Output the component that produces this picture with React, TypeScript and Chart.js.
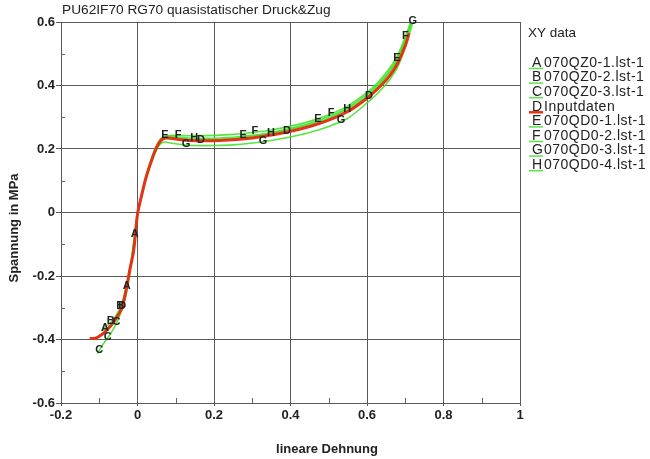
import React, { useEffect, useRef } from "react";
import { Chart, registerables } from "chart.js";

Chart.register(...registerables);

const TITLE = "PU62IF70 RG70 quasistatischer Druck&Zug";
const X_TITLE = "lineare Dehnung";
const Y_TITLE = "Spannung in MPa";
const LEGEND_TITLE = "XY data";

const X_TICKS = [-0.2, 0, 0.2, 0.4, 0.6, 0.8, 1];
const Y_TICKS = [-0.6, -0.4, -0.2, 0, 0.2, 0.4, 0.6];
const X_MINOR = [-0.1, 0.1, 0.3, 0.5, 0.7, 0.9];
const Y_MINOR = [-0.5, -0.3, -0.1, 0.1, 0.3, 0.5];

const LETTERS = ["A", "B", "C", "D", "E", "F", "G", "H"];
const NAMES = [
  "070QZ0-1.lst-1",
  "070QZ0-2.lst-1",
  "070QZ0-3.lst-1",
  "Inputdaten",
  "070QD0-1.lst-1",
  "070QD0-2.lst-1",
  "070QD0-3.lst-1",
  "070QD0-4.lst-1",
];

// compression tests (A, B, C)
const A_X = [-0.095, -0.075, -0.06, -0.045, -0.03, -0.02, -0.01, 0];
const A_Y = [-0.372, -0.362, -0.34, -0.306, -0.248, -0.182, -0.1, 0];
const B_X = [-0.09, -0.075, -0.06, -0.045, -0.03, -0.02, -0.01, 0];
const B_Y = [-0.365, -0.352, -0.332, -0.298, -0.24, -0.175, -0.095, 0];
const C_X = [-0.105, -0.09, -0.075, -0.06, -0.045, -0.03, -0.02, -0.01, 0];
const C_Y = [-0.445, -0.415, -0.39, -0.36, -0.32, -0.262, -0.19, -0.1, 0];

// input data (D)
const D_X = [
  -0.125, -0.11, -0.095, -0.08, -0.065, -0.05, -0.04, -0.03, -0.02, -0.01, 0, 0.01, 0.02, 0.03, 0.04,
  0.05, 0.06, 0.07, 0.09, 0.12, 0.15, 0.2, 0.25, 0.3, 0.35, 0.4, 0.45, 0.5, 0.55, 0.6, 0.63, 0.66,
  0.68, 0.7, 0.71,
];
const D_Y = [
  -0.397, -0.396, -0.386, -0.37, -0.349, -0.322, -0.298, -0.245, -0.18, -0.12, -0.005, 0.05, 0.1,
  0.14, 0.175, 0.205, 0.225, 0.234, 0.233, 0.228, 0.226, 0.226, 0.229, 0.235, 0.244, 0.256, 0.271,
  0.291, 0.318, 0.36, 0.392, 0.432, 0.47, 0.525, 0.565,
];

// tension tests (E, F, G, H)
const T_X = [
  0, 0.01, 0.02, 0.03, 0.04, 0.05, 0.06, 0.07, 0.09, 0.12, 0.15, 0.2, 0.25, 0.3, 0.35, 0.4, 0.45,
  0.5, 0.55, 0.6, 0.63, 0.66, 0.68, 0.7, 0.72,
];
const E_Y = [
  0, 0.052, 0.104, 0.146, 0.182, 0.212, 0.232, 0.24, 0.24, 0.236, 0.234, 0.234, 0.237, 0.243, 0.252,
  0.265, 0.281, 0.302, 0.33, 0.372, 0.405, 0.448, 0.488, 0.545, 0.61,
];
const F_Y = [
  0, 0.048, 0.098, 0.138, 0.172, 0.203, 0.226, 0.238, 0.243, 0.242, 0.242, 0.243, 0.246, 0.252, 0.26,
  0.272, 0.287, 0.308, 0.336, 0.378, 0.412, 0.456, 0.496, 0.553, 0.62,
];
const G_Y = [
  0, 0.05, 0.1, 0.138, 0.17, 0.198, 0.216, 0.222, 0.218, 0.213, 0.211, 0.211, 0.213, 0.219, 0.227,
  0.238, 0.252, 0.271, 0.297, 0.345, 0.378, 0.42, 0.458, 0.52, 0.6,
];
const H_Y = [
  0, 0.05, 0.102, 0.142, 0.176, 0.207, 0.228, 0.236, 0.236, 0.232, 0.23, 0.23, 0.233, 0.24, 0.249,
  0.262, 0.277, 0.297, 0.325, 0.366, 0.4, 0.444, 0.482, 0.54, 0.605,
];

// x positions of the letter markers on each curve
const A_MARK = [-0.007, -0.028, -0.085];
const B_MARK = [-0.045, -0.07];
const C_MARK = [-0.055, -0.078, -0.1];
const D_MARK = [-0.04, 0.166, 0.391, 0.605];
const E_MARK = [0.072, 0.276, 0.472, 0.678];
const F_MARK = [0.106, 0.307, 0.506, 0.7];
const G_MARK = [0.127, 0.328, 0.532, 0.72];
const H_MARK = [0.148, 0.349, 0.548];

const GREEN = "rgba(70, 225, 45, 0.9)";
const RED = "rgb(226, 52, 22)";

function pts(xs: number[], ys: number[]) {
  return xs.map((x, i) => ({ x, y: ys[i] }));
}

const SERIES = [
  { data: pts(A_X, A_Y), marks: A_MARK, color: GREEN },
  { data: pts(B_X, B_Y), marks: B_MARK, color: GREEN },
  { data: pts(C_X, C_Y), marks: C_MARK, color: GREEN },
  { data: pts(D_X, D_Y), marks: D_MARK, color: RED },
  { data: pts(T_X, E_Y), marks: E_MARK, color: GREEN },
  { data: pts(T_X, F_Y), marks: F_MARK, color: GREEN },
  { data: pts(T_X, G_Y), marks: G_MARK, color: GREEN },
  { data: pts(T_X, H_Y), marks: H_MARK, color: GREEN },
];

function interpY(data: { x: number; y: number }[], x: number) {
  for (let i = 0; i < data.length - 1; i++) {
    const a = data[i];
    const b = data[i + 1];
    if ((x >= a.x && x <= b.x) || (x <= a.x && x >= b.x)) {
      const t = b.x === a.x ? 0 : (x - a.x) / (b.x - a.x);
      return a.y + t * (b.y - a.y);
    }
  }
  return data[data.length - 1].y;
}

function fmt(v: number) {
  const r = Math.round(v * 10) / 10;
  return String(r);
}

const FONT = "'Liberation Sans', Arial, sans-serif";

const decorPlugin = {
  id: "decor",
  beforeDraw(chart: any) {
    const ctx = chart.ctx;
    ctx.save();
    ctx.fillStyle = "#ffffff";
    ctx.fillRect(0, 0, chart.width, chart.height);
    ctx.restore();
  },
  afterDatasetsDraw(chart: any) {
    const ctx = chart.ctx;
    const xs = chart.scales.x;
    const ys = chart.scales.y;
    ctx.save();
    ctx.font = `bold 11px ${FONT}`;
    ctx.textAlign = "center";
    ctx.textBaseline = "middle";
    ctx.fillStyle = "#222222";
    SERIES.forEach((s, i) => {
      s.marks.forEach((mx) => {
        const my = interpY(s.data, mx);
        ctx.fillText(LETTERS[i], xs.getPixelForValue(mx), ys.getPixelForValue(my) - 1);
      });
    });
    ctx.restore();
  },
  afterDraw(chart: any) {
    const ctx = chart.ctx;
    const xs = chart.scales.x;
    const ys = chart.scales.y;
    const area = chart.chartArea;
    ctx.save();
    // minor ticks
    ctx.strokeStyle = "#666666";
    ctx.lineWidth = 1;
    ctx.beginPath();
    Y_MINOR.forEach((v) => {
      const py = Math.round(ys.getPixelForValue(v)) + 0.5;
      ctx.moveTo(area.left, py);
      ctx.lineTo(area.left + 4, py);
    });
    X_MINOR.forEach((v) => {
      const px = Math.round(xs.getPixelForValue(v)) + 0.5;
      ctx.moveTo(px, area.bottom);
      ctx.lineTo(px, area.bottom - 5);
    });
    ctx.stroke();

    // title
    ctx.fillStyle = "#222222";
    ctx.font = `13.7px ${FONT}`;
    ctx.textAlign = "left";
    ctx.textBaseline = "middle";
    ctx.fillText(TITLE, 62, 10);

    // axis titles
    ctx.font = `bold 13px ${FONT}`;
    ctx.textAlign = "center";
    ctx.fillText(X_TITLE, 327, 449);
    ctx.save();
    ctx.translate(14, 228);
    ctx.rotate(-Math.PI / 2);
    ctx.fillText(Y_TITLE, 0, 0);
    ctx.restore();

    // legend
    ctx.textAlign = "left";
    ctx.font = `13.5px ${FONT}`;
    ctx.fillText(LEGEND_TITLE, 528, 33);
    ctx.font = `14px ${FONT}`;
    SERIES.forEach((s, i) => {
      const y = 63 + i * 14.6;
      ctx.strokeStyle = s.color;
      ctx.lineWidth = i === 3 ? 2.5 : 1.5;
      ctx.beginPath();
      ctx.moveTo(529, y + 5.5);
      ctx.lineTo(543, y + 5.5);
      ctx.stroke();
      ctx.fillStyle = "#222222";
      (ctx as any).letterSpacing = "0px";
      ctx.fillText(LETTERS[i], 532, y);
      (ctx as any).letterSpacing = "0.5px";
      ctx.fillText(NAMES[i], 544, y);
      (ctx as any).letterSpacing = "0px";
    });
    ctx.restore();
  },
};

export default function App() {
  const ref = useRef<HTMLCanvasElement | null>(null);

  useEffect(() => {
    if (!ref.current) return;
    const datasets = SERIES.map((s, i) => ({
      label: NAMES[i],
      data: s.data,
      borderColor: s.color,
      backgroundColor: s.color,
      borderWidth: i === 3 ? 3 : 1.6,
      pointRadius: 0,
      tension: 0.3,
      fill: false,
      order: i === 3 ? 0 : 1,
    }));
    const chart = new Chart(ref.current, {
      type: "line",
      data: { datasets },
      options: {
        animation: false,
        responsive: true,
        maintainAspectRatio: false,
        layout: { padding: { top: 22, right: 130, left: 0, bottom: 0 } },
        plugins: {
          legend: { display: false },
          tooltip: { enabled: false },
          title: { display: false },
        },
        scales: {
          x: {
            type: "linear",
            min: -0.2,
            max: 1,
            afterBuildTicks: (s: any) => {
              s.ticks = X_TICKS.map((v) => ({ value: v }));
            },
            afterFit: (s: any) => {
              s.height = 56;
            },
            grid: { color: "#5a5a5a", lineWidth: 1, tickLength: 3, drawTicks: true },
            border: { display: true, color: "#5a5a5a", width: 1 },
            ticks: {
              color: "#222222",
              font: { family: FONT, size: 13, weight: "bold" },
              padding: 2,
              maxRotation: 0,
              autoSkip: false,
              callback: (v: any) => fmt(Number(v)),
            },
          },
          y: {
            type: "linear",
            min: -0.6,
            max: 0.6,
            afterBuildTicks: (s: any) => {
              s.ticks = Y_TICKS.map((v) => ({ value: v }));
            },
            afterFit: (s: any) => {
              s.width = 61;
            },
            grid: { color: "#5a5a5a", lineWidth: 1, tickLength: 5, drawTicks: true },
            border: { display: true, color: "#5a5a5a", width: 1 },
            ticks: {
              color: "#222222",
              font: { family: FONT, size: 13, weight: "bold" },
              padding: 1,
              autoSkip: false,
              callback: (v: any) => fmt(Number(v)),
            },
          },
        },
      },
      plugins: [decorPlugin],
    });
    return () => chart.destroy();
  }, []);

  return (
    <div style={{ position: "fixed", left: 0, top: 0, width: 650, height: 459, background: "#fff" }}>
      <canvas ref={ref} />
    </div>
  );
}
